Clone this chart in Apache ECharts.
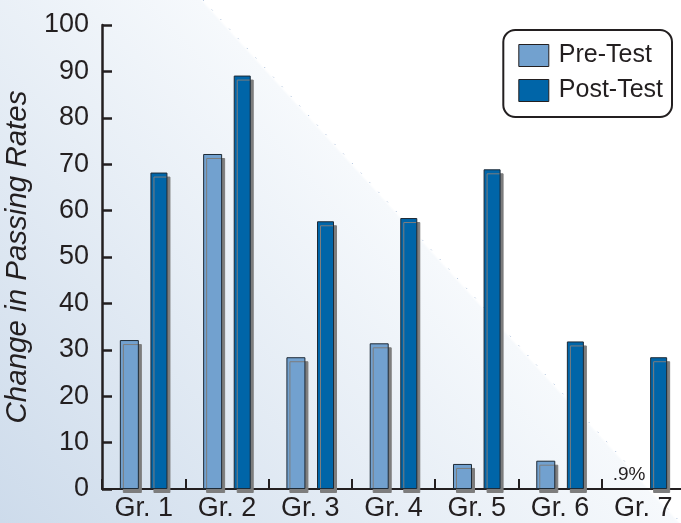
<!DOCTYPE html>
<html><head><meta charset="utf-8">
<script src="https://cdn.jsdelivr.net/npm/echarts@6/dist/echarts.min.js"></script>
<style>html,body{margin:0;padding:0;background:#fff}#c{width:681px;height:523px}</style>
</head><body><div id="c"></div>
<script>
const categories = ['Gr. 1', 'Gr. 2', 'Gr. 3', 'Gr. 4', 'Gr. 5', 'Gr. 6', 'Gr. 7'];
const preTest = [32.1, 72.2, 28.4, 31.4, 5.4, 6.1, 0.9];
const postTest = [68.2, 89.1, 57.7, 58.4, 68.9, 31.8, 28.4];
const preLabels = ['', '', '', '', '', '', '.9%'];
const hiddenPre = [false, false, false, false, false, false, true];
const yMin = 0, yMax = 100, yStep = 10;

const FONT = "'Liberation Sans',Arial,Helvetica,sans-serif";
const INK = '#231f20';
const shadow = {shadowColor: '#7d7d7d', shadowBlur: 0.01, shadowOffsetX: 3, shadowOffsetY: 4};

const chart = echarts.init(document.getElementById('c'), null, {renderer: 'canvas'});
chart.setOption({
  animation: false,
  backgroundColor: {
    type: 'linear', x: 0, y: 523, x2: 371, y2: 184, global: true,
    colorStops: [{offset: 0, color: '#cddbeb'}, {offset: 0.995, color: '#f6f9fc'}, {offset: 1, color: '#ffffff'}]
  },
  graphic: [{
    type: 'line', z: 0, silent: true,
    shape: {x1: 203, y1: 0, x2: 681, y2: 523},
    style: {stroke: '#9fb6d6', lineWidth: 1, lineDash: [1, 12]}
  }],
  grid: {left: 102, top: 25, width: 583, height: 464, containLabel: false, outerBoundsMode: 'none'},
  legend: {
    orient: 'vertical', right: 9, top: 30,
    padding: [13, 9, 14, 15],
    borderColor: INK, borderWidth: 2, borderRadius: 12,
    backgroundColor: '#ffffff',
    itemWidth: 30, itemHeight: 22, itemGap: 10,
    icon: 'rect',
    itemStyle: {shadowColor: 'rgba(0,0,0,0)', shadowBlur: 0, shadowOffsetX: 0, shadowOffsetY: 0, borderColor: INK, borderWidth: 1},
    textStyle: {fontFamily: FONT, fontSize: 25, color: INK, lineHeight: 22, padding: [0, 0, 0, 5]},
    data: ['Pre-Test', 'Post-Test']
  },
  xAxis: {
    type: 'category', data: categories,
    axisLine: {show: true, lineStyle: {color: INK, width: 2}},
    axisTick: {show: true, inside: true, length: 10, lineStyle: {color: INK, width: 2}},
    axisLabel: {fontFamily: FONT, fontSize: 27, color: INK, margin: 6, interval: 0}
  },
  yAxis: {
    type: 'value', min: yMin, max: yMax, interval: yStep,
    name: 'Change in Passing Rates', nameLocation: 'middle', nameGap: 64, nameRotate: 90,
    nameTextStyle: {fontFamily: FONT, fontStyle: 'italic', fontSize: 29.5, color: INK},
    axisLine: {show: true, lineStyle: {color: INK, width: 2.5}},
    axisTick: {show: true, inside: true, length: 10, lineStyle: {color: INK, width: 2.5}},
    splitLine: {show: false},
    axisLabel: {fontFamily: FONT, fontSize: 27, color: INK, margin: 13}
  },
  series: [{
    name: 'Pre-Test', type: 'bar', barWidth: 19, barGap: '61%', z: 3,
    itemStyle: Object.assign({color: '#72a1cf', borderColor: '#1e2a36', borderWidth: 1}, shadow),
    data: preTest.map((v, i) => hiddenPre[i] ? {
      value: v,
      itemStyle: {color: 'rgba(0,0,0,0)', borderWidth: 0, shadowColor: 'rgba(0,0,0,0)'},
      label: {show: true, position: 'top', distance: 1, formatter: preLabels[i], fontFamily: FONT, fontSize: 19, color: INK}
    } : v)
  }, {
    name: 'Post-Test', type: 'bar', barWidth: 17, z: 3,
    itemStyle: Object.assign({color: '#0065a8', borderColor: '#1e2a36', borderWidth: 1}, shadow),
    data: postTest
  }]
});
</script></body></html>
